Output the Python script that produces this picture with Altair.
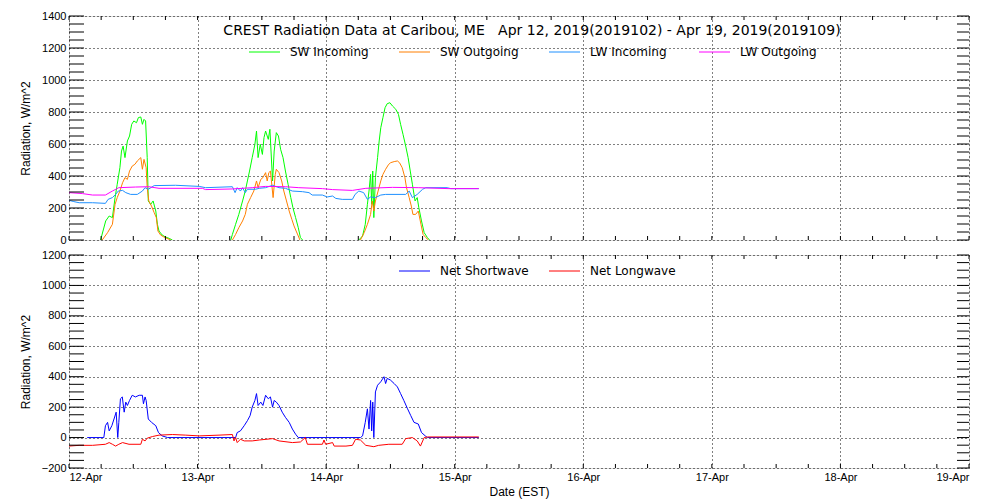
import altair as alt
import pandas as pd

# ---------------- data (hours since 12-Apr-2019 00:00 EST) ----------------
SW_IN_H = [5.9, 6.85, 7.5, 8.1, 8.6, 9.0, 9.5, 9.8, 10.1, 10.45, 10.9, 11.3, 11.7, 12.1, 12.6, 12.95,
           13.4, 13.7, 14.0, 14.3, 14.6, 14.8, 15.25, 15.7, 16.2, 16.5, 16.8, 17.4, 18.0, 18.7, 19.3,
           30.2, 30.5, 31.1, 31.7, 32.4, 32.9, 33.3, 33.7, 34.2, 34.7, 35.0, 35.3, 35.7, 36.1, 36.4,
           36.7, 37.2, 37.5, 38.0, 38.3, 38.7, 39.1, 39.5, 39.95, 40.4, 40.9, 41.4, 41.8, 42.3, 42.8,
           43.2, 43.6,
           54.1, 54.8, 55.3, 55.7, 56.0, 56.3, 56.5, 56.7, 56.9, 57.2, 57.6, 57.9, 58.2, 58.6, 59.0,
           59.4, 59.9, 60.4, 61.0, 61.5, 61.9, 62.35, 62.85, 63.3, 63.7, 64.1, 64.6, 65.0, 65.3, 65.8,
           66.3, 66.9, 67.3]
SW_IN_V = [0, 119, 150, 140, 265, 348, 452, 556, 587, 515, 619, 650, 723, 744, 733, 765,
           769, 723, 754, 744, 515, 244, 223, 244, 181, 98, 56, 31, 19, 10, 0,
           0, 35, 98, 160, 244, 306, 369, 431, 515, 598, 681, 515, 598, 535, 640,
           681, 629, 692, 369, 556, 671, 650, 567, 515, 431, 348, 265, 202, 140, 77,
           15, 0,
           0, 25, 98, 223, 306, 410, 223, 431, 140, 390, 515, 619, 702, 765, 827,
           852, 858, 837, 817, 785, 723, 660, 587, 515, 431, 348, 244, 265, 202, 119,
           46, 15, 0]

SW_OUT_H = [6.2, 7.2, 8.1, 8.6, 9.0, 9.5, 10.0, 10.45, 10.9, 11.3, 11.8, 12.3, 12.75, 13.4, 13.7,
            14.0, 14.4, 14.6, 14.9, 15.4, 15.9, 16.3, 16.6, 17.1, 17.7, 18.7, 19.0,
            30.5, 31.1, 31.7, 32.4, 32.9, 33.3, 33.9, 34.5, 35.0, 35.3, 35.8, 36.2, 36.7, 37.0,
            37.3, 37.6, 38.1, 38.5, 38.7, 39.2, 39.7, 40.1, 40.6, 41.1, 41.6, 42.0, 42.4, 42.8, 43.1,
            54.4, 55.1, 55.7, 56.3, 56.6, 56.9, 57.2, 57.7, 58.2, 58.6, 59.1, 59.6, 60.0, 60.7,
            61.3, 61.7, 62.2, 62.7, 63.0, 63.5, 63.9, 64.2, 64.7, 65.2, 65.7, 66.1, 66.6, 67.1]
SW_OUT_V = [0, 46, 98, 223, 265, 306, 358, 390, 379, 431, 462, 473, 494, 515, 442,
            504, 452, 327, 244, 212, 171, 140, 56, 31, 19, 4, 0,
            0, 35, 77, 119, 160, 223, 265, 306, 369, 327, 379, 390, 421, 369,
            421, 431, 265, 410, 442, 421, 369, 306, 244, 181, 129, 88, 56, 25, 0,
            0, 46, 98, 160, 244, 181, 244, 306, 369, 410, 442, 469, 483, 490,
            494, 483, 452, 390, 327, 265, 212, 160, 160, 181, 98, 35, 15, 0]

LW_IN_H = [0, 0.9, 1.9, 4.4, 6.8, 7.3, 8.1, 8.7, 9.2, 10.0, 10.6, 11.5, 12.75, 13.7, 14.2, 14.8,
           15.9, 19.9, 24.3, 25.5, 30.5, 31.0, 31.4, 32.0, 32.4, 32.9, 33.3, 34.8, 35.5, 36.7, 38.0,
           39.2, 40.4, 41.7, 43.6, 44.8, 45.4, 47.3, 48.2, 49.2, 49.8, 51.0, 52.9, 53.4, 54.1, 55.0,
           55.7, 56.3, 57.2, 58.2, 59.1, 62.85, 63.5, 64.1, 65.0, 66.0, 66.6, 70.6, 71.25, 76.5]
LW_IN_V = [248, 240, 233, 233, 229, 254, 265, 285, 306, 310, 296, 285, 285, 306, 327, 317,
           340, 342, 335, 327, 333, 296, 327, 306, 327, 296, 317, 317, 323, 327, 342,
           327, 323, 306, 302, 296, 281, 281, 269, 275, 260, 254, 254, 285, 306, 296,
           254, 269, 265, 281, 285, 285, 306, 265, 285, 317, 327, 327, 321, 321]

LW_OUT_H = [0, 2.5, 4.4, 6.8, 8.1, 9.3, 12.4, 14.9, 16.8, 24.9, 25.5, 30.5, 34.2, 36.7, 40.4,
            42.9, 47.3, 49.2, 52.9, 55.4, 60.4, 65.3, 70.9, 76.5]
LW_OUT_V = [296, 290, 281, 281, 306, 327, 331, 333, 323, 323, 315, 319, 327, 335, 333,
            327, 321, 315, 310, 323, 329, 327, 321, 321]

NET_SW_H = [3.4, 6.5, 6.8, 7.2, 7.5, 8.0, 8.4, 8.8, 9.1, 9.3, 9.6, 9.95, 10.3, 10.6, 10.9, 11.3,
            11.8, 12.4, 13.1, 13.7, 13.9, 14.2, 14.4, 14.8, 15.4, 16.2, 16.7, 17.4, 18.4,
            31.1, 31.4, 32.0, 32.7, 33.3, 33.8, 34.2, 34.7, 35.0, 35.3, 35.8, 36.2, 36.7, 37.2,
            37.6, 38.0, 38.3, 38.7, 39.2, 39.8, 40.4, 41.1, 41.7, 42.3, 42.8,
            54.4, 54.8, 55.3, 55.7, 56.0, 56.3, 56.5, 56.7, 56.9, 57.2, 57.6, 58.2, 58.8, 59.1,
            59.4, 60.0, 60.7, 61.3, 61.9, 62.5, 63.2, 63.8, 64.4, 65.2, 65.8, 66.5, 66.9, 76.5]
NET_SW_V = [0, 0, 78, 100, 44, 78, 122, 167, 0, 100, 255, 267, 167, 233, 211, 244,
            278, 267, 278, 278, 222, 267, 244, 122, 100, 78, 33, 11, 0,
            0, 33, 44, 78, 111, 144, 200, 244, 289, 211, 233, 211, 278, 255,
            267, 200, 244, 233, 211, 167, 133, 100, 56, 22, 0,
            0, 11, 100, 189, 56, 244, 44, 233, 0, 300, 344, 367, 400, 355,
            389, 378, 355, 333, 289, 244, 189, 144, 100, 89, 33, 11, 0, 0]

NET_LW_H = [0, 1.9, 4.4, 6.8, 7.5, 8.1, 8.7, 9.3, 10.0, 11.2, 13.4, 13.7, 14.2, 14.6, 15.6, 16.8,
            19.3, 21.8, 24.3, 28.0, 30.5, 30.8, 31.1, 31.4, 32.0, 32.7, 34.2, 35.5, 38.0, 39.2,
            41.7, 43.2, 44.1, 44.5, 47.3, 47.6, 47.9, 49.2, 49.5, 51.7, 52.9, 53.5, 54.4, 55.4,
            56.9, 57.8, 59.7, 62.2, 62.85, 64.1, 65.0, 65.6, 66.3, 66.9, 76.5]
NET_LW_V = [-56, -51, -51, -44, -33, -44, -56, -44, -33, -44, -44, -11, -22, -4, 7, 16,
            20, 16, 11, 16, 20, -22, 0, -33, -11, -22, -22, -16, -7, -22,
            -33, -29, 0, -44, -44, -16, -44, -33, -56, -56, -51, -11, -16, -51,
            -60, -51, -44, -44, -7, 0, -22, -56, 0, 4, 4]

TOP_NAMES = ["SW Incoming", "SW Outgoing", "LW Incoming", "LW Outgoing"]
TOP_COLORS = ["#00ff00", "#ff7f00", "#1e90ff", "#ff00ff"]
BOT_NAMES = ["Net Shortwave", "Net Longwave"]
BOT_COLORS = ["#0000ff", "#ff0000"]
DAY_LABELS = ["12-Apr", "13-Apr", "14-Apr", "15-Apr", "16-Apr", "17-Apr", "18-Apr", "19-Apr"]
TITLE = "CREST Radiation Data at Caribou, ME\u00a0\u00a0\u00a0Apr 12, 2019(2019102) - Apr 19, 2019(2019109)"
Y_TITLE = "Radiation, W/m^2"
X_TITLE = "Date (EST)"

FONT = "DejaVu Sans"
W = 900
H1 = 224
H2 = 213


def frame(h, v, split):
    df = pd.DataFrame({"h": h, "val": v})
    df["seg"] = (df["h"] // 24).astype(int) if split else 0
    return df


def panel(series, lo, hi, height, show_x, legend_names, legend_colors, legend_y, legend_x, title=None):
    label_expr = "[" + ",".join("'%s'" % d for d in DAY_LABELS) + "][round(datum.value/24)]"
    x_enc = alt.X(
        "h:Q",
        scale=alt.Scale(domain=[0, 168], nice=False, zero=False),
        axis=alt.Axis(values=list(range(0, 169, 24)), labelExpr=label_expr, labels=show_x,
                      title=X_TITLE if show_x else None, grid=True, gridDash=[1, 3], gridColor="black",
                      gridOpacity=1, ticks=False, domain=False, labelPadding=3, titlePadding=4,
                      labelFontSize=11, titleFontSize=12, titleFontWeight="normal"),
    )
    y_enc = alt.Y(
        "val:Q",
        scale=alt.Scale(domain=[lo, hi], nice=False, zero=False),
        axis=alt.Axis(values=list(range(lo, hi + 1, 200)), title=Y_TITLE, grid=True, gridDash=[1, 3],
                      gridColor="black", gridOpacity=1, ticks=False, domain=False, labelPadding=3,
                      titlePadding=9, labelFontSize=11, titleFontSize=12, titleFontWeight="normal",
                      format="d"),
    )
    layers = []
    for df, color in series:
        layers.append(
            alt.Chart(df).mark_line(color=color, strokeWidth=1, clip=True).encode(
                x=x_enc, y=y_enc, detail="seg:N")
        )
    xt = pd.DataFrame({"h": list(range(0, 169, 6))})
    yt = pd.DataFrame({"val": list(range(lo, hi + 1, 50))})
    layers.append(alt.Chart(xt).mark_rule(color="black").encode(x=x_enc, y=alt.value(0), y2=alt.value(4)))
    layers.append(alt.Chart(xt).mark_rule(color="black").encode(x=x_enc, y=alt.value(height - 4), y2=alt.value(height)))
    layers.append(alt.Chart(yt).mark_rule(color="black").encode(y=y_enc, x=alt.value(0), x2=alt.value(15)))
    layers.append(alt.Chart(yt).mark_rule(color="black").encode(y=y_enc, x=alt.value(W - 12), x2=alt.value(W)))
    for name, color, lx in zip(legend_names, legend_colors, legend_x):
        layers.append(alt.Chart(pd.DataFrame({"n": [name]})).mark_rule(color=color, strokeWidth=1).encode(
            x=alt.value(lx), x2=alt.value(lx + 31), y=alt.value(legend_y)))
        layers.append(alt.Chart(pd.DataFrame({"n": [name]})).mark_text(
            align="left", baseline="middle", font=FONT, fontSize=12, color="black").encode(
            text="n:N", x=alt.value(lx + 41), y=alt.value(legend_y)))
    if title:
        layers.append(alt.Chart(pd.DataFrame({"t": [title]})).mark_text(
            align="center", baseline="middle", font=FONT, fontSize=14, color="black").encode(
            text="t:N", x=alt.value(463), y=alt.value(15)))
    return alt.layer(*layers).properties(width=W, height=height)


top = panel(
    [(frame(SW_IN_H, SW_IN_V, True), TOP_COLORS[0]),
     (frame(SW_OUT_H, SW_OUT_V, True), TOP_COLORS[1]),
     (frame(LW_IN_H, LW_IN_V, False), TOP_COLORS[2]),
     (frame(LW_OUT_H, LW_OUT_V, False), TOP_COLORS[3])],
    0, 1400, H1, False, TOP_NAMES, TOP_COLORS, 36, [180, 330, 480, 630], title=TITLE)

bottom = panel(
    [(frame(NET_SW_H, NET_SW_V, False), BOT_COLORS[0]),
     (frame(NET_LW_H, NET_LW_V, False), BOT_COLORS[1])],
    -200, 1200, H2, True, BOT_NAMES, BOT_COLORS, 16, [330, 480])

chart = alt.vconcat(top, bottom, spacing=15, bounds="flush").properties(
    padding={"left": 10, "top": 1, "right": 5, "bottom": 5}
).configure_view(stroke="black", strokeWidth=1).configure_axis(
    labelFont=FONT, titleFont=FONT, titleFontWeight="normal", labelColor="black", titleColor="black"
).configure(background="white")

chart.save("out.html", embed_options={"renderer": "svg", "actions": False})
